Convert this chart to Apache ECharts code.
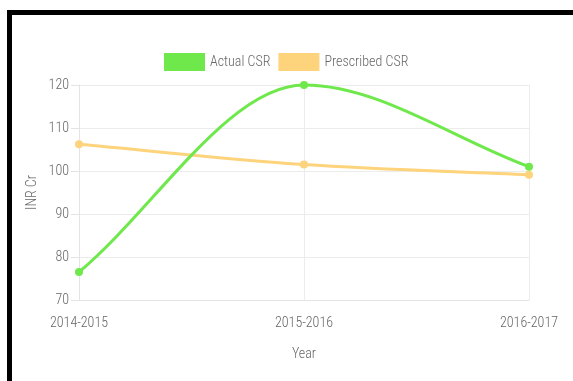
<!DOCTYPE html>
<html>
<head>
<meta charset="utf-8">
<script src="https://cdn.jsdelivr.net/npm/echarts@6/dist/echarts.min.js"></script>
<style>
  html, body { margin: 0; padding: 0; background: #fff; }
  #chart { width: 573px; height: 381px; }
</style>
</head>
<body>
<div id="chart"></div>
<script>
// CSR spend per financial year (INR crore)
const years = ['2014-2015', '2015-2016', '2016-2017'];
const actualCSR = [76.5, 120, 101];
const prescribedCSR = [106.2, 101.5, 99.1];
const yTicks = { min: 70, max: 120, step: 10 };

const FONT = '"Roboto Condensed", "Liberation Sans Narrow", sans-serif';
const WEIGHT = 300;
const GREEN = '#6ee84b';
const ORANGE = '#fdd37c';
const TEXT = '#666';

// Monotone cubic (Fritsch–Carlson) path through pixel points from the grid's own scales
function monotonePath(api, values) {
  const pts = values.map((v, i) => api.coord([i, v]));
  const n = pts.length;
  const deltas = [];
  const m = [];
  for (let i = 0; i < n - 1; i++) {
    deltas[i] = (pts[i + 1][1] - pts[i][1]) / (pts[i + 1][0] - pts[i][0]);
  }
  for (let i = 0; i < n; i++) {
    if (i === 0) m[i] = deltas[0];
    else if (i === n - 1) m[i] = deltas[n - 2];
    else if (Math.sign(deltas[i - 1]) !== Math.sign(deltas[i]) || deltas[i - 1] === 0 || deltas[i] === 0) m[i] = 0;
    else m[i] = (deltas[i - 1] + deltas[i]) / 2;
  }
  for (let i = 0; i < n - 1; i++) {
    if (deltas[i] === 0) { m[i] = m[i + 1] = 0; continue; }
    const a = m[i] / deltas[i];
    const b = m[i + 1] / deltas[i];
    const s = a * a + b * b;
    if (s > 9) {
      const t = 3 / Math.sqrt(s);
      m[i] = a * t * deltas[i];
      m[i + 1] = b * t * deltas[i];
    }
  }
  let d = 'M' + pts[0][0] + ' ' + pts[0][1];
  for (let i = 0; i < n - 1; i++) {
    const [x0, y0] = pts[i];
    const [x1, y1] = pts[i + 1];
    const dx = (x1 - x0) / 3;
    d += ' C' + (x0 + dx) + ' ' + (y0 + m[i] * dx) + ' ' + (x1 - dx) + ' ' + (y1 - m[i + 1] * dx) + ' ' + x1 + ' ' + y1;
  }
  return d;
}

function curveSeries(name, values, color, z) {
  return {
    name: name,
    type: 'custom',
    coordinateSystem: 'cartesian2d',
    data: [[0, values[0]]],
    silent: true,
    z: z,
    itemStyle: { color: color },
    renderItem: (params, api) => ({
      type: 'path',
      shape: { pathData: monotonePath(api, values) },
      style: { fill: 'none', stroke: color, lineWidth: 3 }
    })
  };
}

function pointSeries(name, values, color, z) {
  return {
    name: name,
    type: 'line',
    data: values,
    symbol: 'circle',
    symbolSize: 8,
    lineStyle: { opacity: 0 },
    itemStyle: { color: color },
    z: z
  };
}

const chart = echarts.init(document.getElementById('chart'), null, { renderer: 'canvas' });

chart.setOption({
  animation: false,
  backgroundColor: '#ffffff',
  textStyle: { fontFamily: FONT, fontWeight: WEIGHT },
  graphic: [
    // black frame along the top and left edges
    { type: 'rect', shape: { x: 7, y: 10, width: 566, height: 5 }, style: { fill: '#000' } },
    { type: 'rect', shape: { x: 7, y: 10, width: 5, height: 371 }, style: { fill: '#000' } }
  ],
  legend: {
    top: 53,
    left: 164,
    padding: 0,
    itemWidth: 41,
    itemHeight: 18,
    itemGap: 8,
    icon: 'rect',
    textStyle: { color: TEXT, fontSize: 14, fontFamily: FONT, fontWeight: WEIGHT },
    data: ['Actual CSR', 'Prescribed CSR']
  },
  grid: { left: 79, right: 44, top: 85, bottom: 81, containLabel: false },
  xAxis: {
    type: 'category',
    data: years,
    boundaryGap: false,
    name: 'Year',
    nameLocation: 'middle',
    nameGap: 47,
    nameMoveOverlap: false,
    nameTextStyle: { color: TEXT, fontSize: 14, fontFamily: FONT, fontWeight: WEIGHT },
    axisLine: { lineStyle: { color: '#e4e4e4' } },
    axisTick: { show: false },
    splitLine: { show: true, lineStyle: { color: '#ececec' } },
    axisLabel: { color: TEXT, fontSize: 14, margin: 16, fontFamily: FONT, fontWeight: WEIGHT }
  },
  yAxis: {
    type: 'value',
    min: yTicks.min,
    max: yTicks.max,
    interval: yTicks.step,
    name: 'INR Cr',
    nameLocation: 'middle',
    nameGap: 40,
    nameMoveOverlap: false,
    nameTextStyle: { color: TEXT, fontSize: 14, fontFamily: FONT, fontWeight: WEIGHT },
    axisLine: { show: true, lineStyle: { color: '#e4e4e4' } },
    axisTick: { show: true, length: 8, lineStyle: { color: '#e4e4e4' } },
    splitLine: { lineStyle: { color: '#ececec' } },
    axisLabel: { color: TEXT, fontSize: 14, margin: 10, fontFamily: FONT, fontWeight: WEIGHT }
  },
  series: [
    curveSeries('Prescribed CSR', prescribedCSR, ORANGE, 2),
    pointSeries('Prescribed CSR', prescribedCSR, ORANGE, 3),
    curveSeries('Actual CSR', actualCSR, GREEN, 4),
    pointSeries('Actual CSR', actualCSR, GREEN, 5)
  ]
});
</script>
</body>
</html>
